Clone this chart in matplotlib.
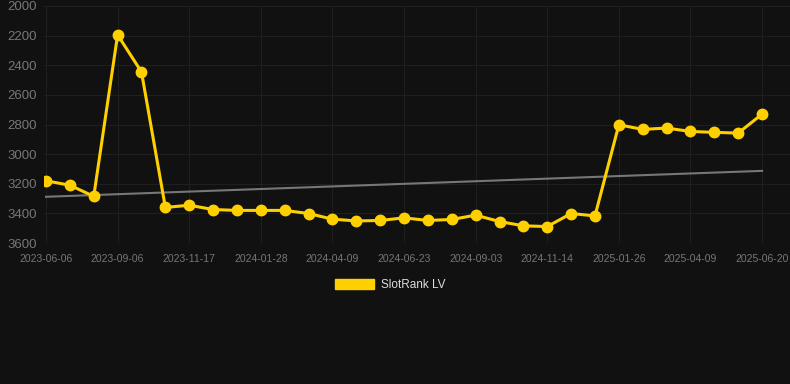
import matplotlib
matplotlib.use("Agg")
import matplotlib.pyplot as plt
import numpy as np

plt.rcParams['font.family'] = ['Liberation Sans', 'DejaVu Sans']

# Data
tick_labels = ['2023-06-06', '2023-09-06', '2023-11-17', '2024-01-28', '2024-04-09',
               '2024-06-23', '2024-09-03', '2024-11-14', '2025-01-26', '2025-04-09',
               '2025-06-20']
rank = [3180, 3210, 3285, 2195, 2445, 3360, 3345, 3374, 3380, 3380, 3380,
        3401, 3439, 3451, 3448, 3430, 3448, 3441, 3412, 3455, 3484, 3489,
        3401, 3417, 2802, 2833, 2824, 2847, 2853, 2858, 2730]
trend = [3288, 3113]  # trend line values at first and last point
series_name = 'SlotRank LV'

bg = '#111111'
gold = '#FFD000'

fig = plt.figure(figsize=(7.9, 3.84), dpi=100, facecolor=bg)
ax = fig.add_axes([44 / 790, 1 - 243 / 384, 746 / 790, 237 / 384], facecolor=bg)

x = np.arange(len(rank))
ax.plot([x[0], x[-1]], trend, color='#777777', lw=1.5, zorder=2)
ax.plot(x, rank, color=gold, lw=2.2, marker='o', ms=7.5, zorder=3, label=series_name)

ax.set_ylim(3600, 2000)
ax.set_xlim(-0.084, 31.17)
ax.set_yticks(range(2000, 3601, 200))
ax.set_xticks(x[::3])
ax.set_xticklabels(tick_labels)

ax.grid(True, color='#1f1f1f', lw=0.8)
ax.set_axisbelow(True)
for s in ax.spines.values():
    s.set_visible(False)
ax.tick_params(axis='y', length=0, labelsize=9.5, colors='#777777', pad=5)
ax.tick_params(axis='x', length=0, labelsize=7.5, colors='#777777', pad=8)

handle = plt.Rectangle((0, 0), 1, 1, color=gold)
leg = fig.legend([handle], [series_name], loc='center', bbox_to_anchor=(390 / 790, 1 - 285 / 384),
                 frameon=False, fontsize=8.5, handlelength=3.3, handleheight=0.9,
                 handletextpad=0.6)
for t in leg.get_texts():
    t.set_color('#dddddd')

fig.savefig('out.png', dpi=100, facecolor=bg)
